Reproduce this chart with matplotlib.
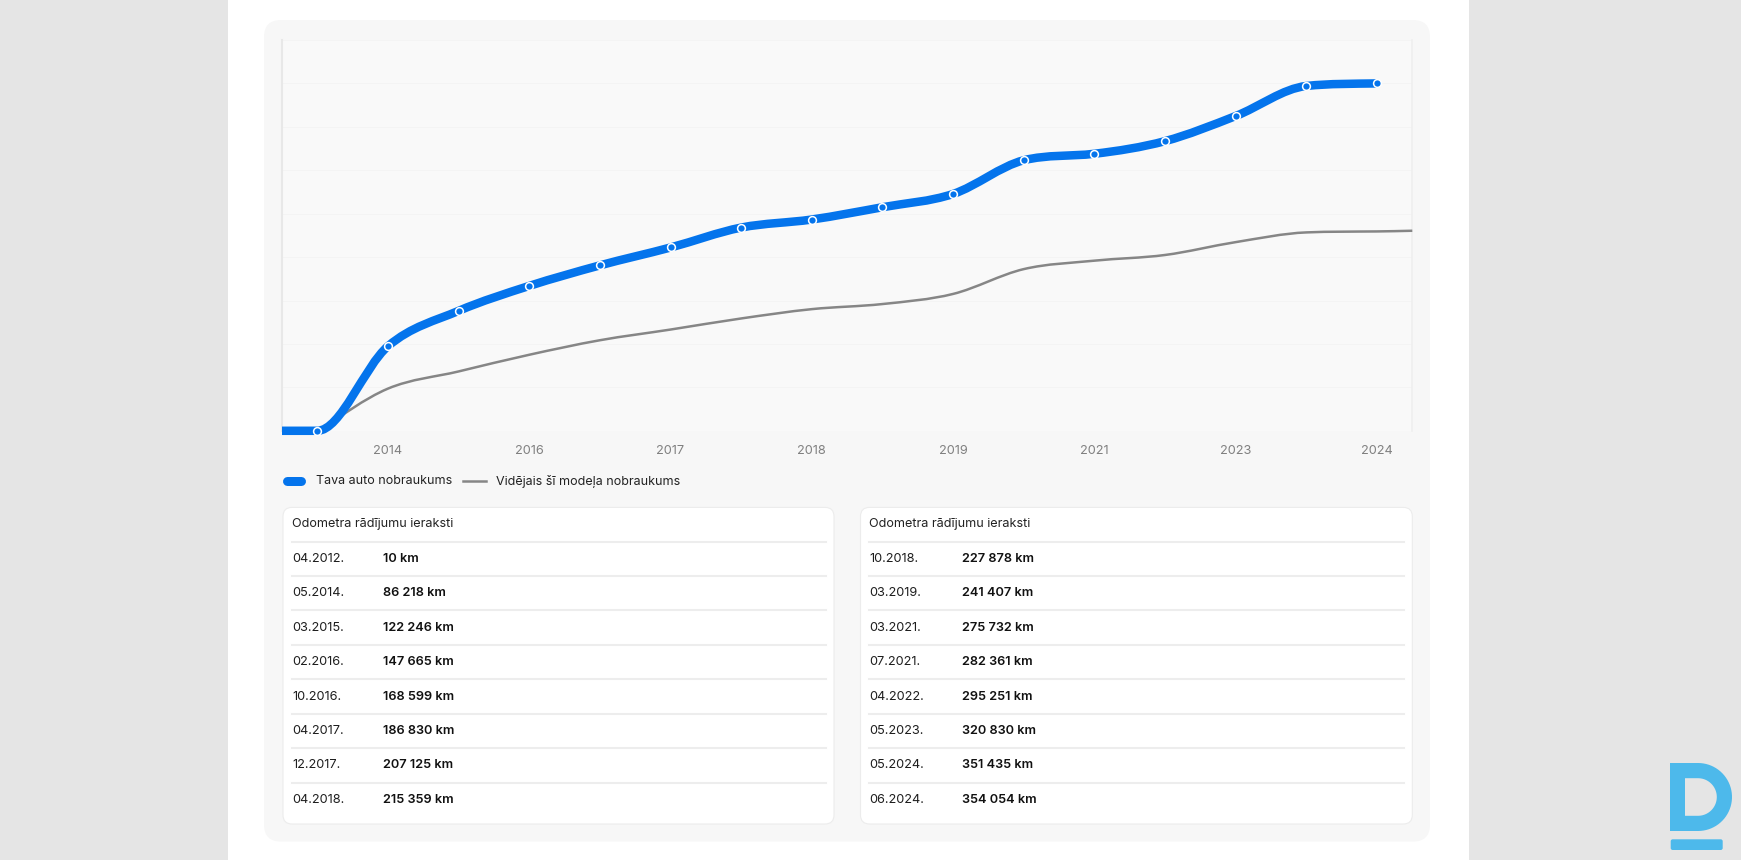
import numpy as np
import matplotlib
matplotlib.use("Agg")
import matplotlib.pyplot as plt
from matplotlib.path import Path
from matplotlib.patches import PathPatch, FancyBboxPatch, Rectangle
from matplotlib.lines import Line2D

plt.rcParams['font.family'] = ['Inter', 'DejaVu Sans']

# ---------------- data ----------------
record_dates = ["04.2012.", "05.2014.", "03.2015.", "02.2016.", "10.2016.", "04.2017.",
                "12.2017.", "04.2018.", "10.2018.", "03.2019.", "03.2021.", "07.2021.",
                "04.2022.", "05.2023.", "05.2024.", "06.2024."]
odometer_km = [10, 86218, 122246, 147665, 168599, 186830, 207125, 215359,
               227878, 241407, 275732, 282361, 295251, 320830, 351435, 354054]
model_average_km = [10, 43000, 60500, 77500, 92300, 103200, 114500, 124000,
                    129200, 139500, 164800, 173400, 179200, 192300, 202200, 203200, 203900]
legend_labels = ["Tava auto nobraukums", "Vidējais šī modeļa nobraukums"]
table_title = "Odometra rādījumu ieraksti"

BLUE = '#0474ec'
GRAY = '#868686'
W, H = 1741, 860
fig = plt.figure(figsize=(W / 100, H / 100), dpi=100)
fig.patch.set_facecolor('#e5e5e5')

# background / page layer in pixel coordinates
bg = fig.add_axes([0, 0, 1, 1])
bg.set_xlim(0, W)
bg.set_ylim(H, 0)
bg.axis('off')
bg.add_patch(Rectangle((227.6, 0), 1469 - 227.6, H, facecolor='white', edgecolor='none'))
bg.add_patch(FancyBboxPatch((264, 20), 1430 - 264, 841.6 - 20,
                            boxstyle="round,pad=0,rounding_size=17",
                            facecolor='#f7f7f7', edgecolor='none'))

# logo
outer_r, inner_r = 34, 18.8
cx, cy = 1698, 797
th = np.linspace(np.pi / 2, -np.pi / 2, 40)
outer = [(1670, cy - outer_r)] + [(cx + outer_r * np.cos(t), cy - outer_r * np.sin(t)) for t in th] + [(1670, cy + outer_r)]
inner = [(1685, cy - inner_r)] + [(cx + inner_r * np.cos(t), cy - inner_r * np.sin(t)) for t in th] + [(1685, cy + inner_r)]
inner = inner[::-1]
verts = outer + [outer[0]] + inner + [inner[0]]
codes = [Path.MOVETO] + [Path.LINETO] * (len(outer) - 1) + [Path.CLOSEPOLY] + \
        [Path.MOVETO] + [Path.LINETO] * (len(inner) - 1) + [Path.CLOSEPOLY]
bg.add_patch(PathPatch(Path(verts, codes), facecolor='#4db9eb', edgecolor='none'))
bg.add_patch(FancyBboxPatch((1670.7, 839.3), 52, 10.7, boxstyle="round,pad=0,rounding_size=2",
                            facecolor='#4db9eb', edgecolor='none'))

# legend
bg.add_line(Line2D([287, 301], [480.5, 480.5], color=BLUE, lw=9 * 0.72, solid_capstyle='round'))
bg.text(316.4, 481, legend_labels[0], fontsize=9.0, color='#222222', va='center', ha='left')
bg.add_line(Line2D([463, 486], [480.8, 480.8], color=GRAY, lw=1.8))
bg.text(496, 481, legend_labels[1], fontsize=9.0, color='#222222', va='center', ha='left')

# tables
half = len(record_dates) // 2
cards = [(283, 834, 292, 383), (860.5, 1412.3, 869.4, 961.5)]
row_h = 34.43
for c, (x0, x1, tx, vx) in enumerate(cards):
    bg.add_patch(FancyBboxPatch((x0, 507.4), x1 - x0, 824 - 507.4,
                                boxstyle="round,pad=0,rounding_size=9",
                                facecolor='white', edgecolor='#ececec', lw=0.8))
    bg.text(tx, 524.5, table_title, fontsize=9.1, color='#222222', va='center', ha='left')
    for r in range(half):
        i = c * half + r
        ly = 541.5 + r * row_h
        bg.add_line(Line2D([tx, x1 - 8.5], [ly, ly], color='#ededed', lw=1.5))
        ty = 558.8 + r * row_h
        bg.text(tx, ty, record_dates[i], fontsize=9.2, color='#1e1e1e', va='center', ha='left')
        val = f"{odometer_km[i]:,}".replace(",", "\u00a0") + " km"
        bg.text(vx, ty, val, fontsize=9.2, color='#111111', va='center', ha='left', fontweight='semibold')

# ---------------- chart ----------------
ax = fig.add_axes([282 / W, 1 - 430.8 / H, (1412.3 - 282) / W, (430.8 - 40) / H])
ax.set_facecolor('#f9f9f9')
n = len(odometer_km)
idx = np.arange(n)
ymax = max(odometer_km) * 1.125
ax.set_xlim(-0.5, n - 0.5)
ax.set_ylim(0, ymax)


def monotone_path(x, y):
    x = np.asarray(x, float)
    y = np.asarray(y, float)
    k = len(x)
    dk = np.diff(y) / np.diff(x)
    m = np.zeros(k)
    m[0] = dk[0]
    m[-1] = dk[-1]
    for i in range(1, k - 1):
        if np.sign(dk[i - 1]) != np.sign(dk[i]):
            m[i] = 0
        else:
            m[i] = (dk[i - 1] + dk[i]) / 2
    for i in range(k - 1):
        if abs(dk[i]) < 1e-12:
            m[i] = m[i + 1] = 0
            continue
        a = m[i] / dk[i]
        b = m[i + 1] / dk[i]
        s = a * a + b * b
        if s > 9:
            t = 3 / np.sqrt(s)
            m[i] = a * t * dk[i]
            m[i + 1] = b * t * dk[i]
    v = [(x[0], y[0])]
    cds = [Path.MOVETO]
    for i in range(k - 1):
        h = (x[i + 1] - x[i]) / 3
        v += [(x[i] + h, y[i] + m[i] * h), (x[i + 1] - h, y[i + 1] - m[i + 1] * h), (x[i + 1], y[i + 1])]
        cds += [Path.CURVE4] * 3
    return Path(v, cds)


blue_x = np.concatenate([[-0.5], idx])
blue_y = np.concatenate([[odometer_km[0]], odometer_km])
gray_x = np.concatenate([idx, [n - 0.5]])

ax.add_patch(PathPatch(monotone_path(gray_x, model_average_km), fill=False, edgecolor=GRAY,
                       lw=1.8, capstyle='butt', joinstyle='round', zorder=3, clip_on=False))
ax.add_patch(PathPatch(monotone_path(blue_x, blue_y), fill=False, edgecolor=BLUE,
                       lw=8.5 * 0.72, capstyle='butt', joinstyle='round', zorder=4, clip_on=False))
ax.plot(idx, odometer_km, 'o', ms=5.6, mfc=BLUE, mec='white', mew=1.1, zorder=5, clip_on=False)

ax.set_yticks(np.linspace(0, ymax, 10))
ax.set_yticklabels([])
ax.grid(axis='y', color='#f4f4f4', lw=0.7)
ax.set_axisbelow(True)
tick_idx = idx[1::2]
ax.set_xticks(tick_idx)
ax.set_xticklabels([record_dates[i][3:7] for i in tick_idx])
ax.tick_params(axis='x', length=0, pad=10, labelsize=9.2, labelcolor='#808080')
ax.tick_params(axis='y', length=0)
for s in ['top', 'bottom']:
    ax.spines[s].set_visible(False)
ax.spines['left'].set_color('#e8e8e8')
ax.spines['left'].set_linewidth(1.5)
ax.spines['right'].set_color('#efefef')
ax.spines['right'].set_linewidth(1.2)

fig.savefig('out.png', dpi=100, facecolor=fig.get_facecolor())
